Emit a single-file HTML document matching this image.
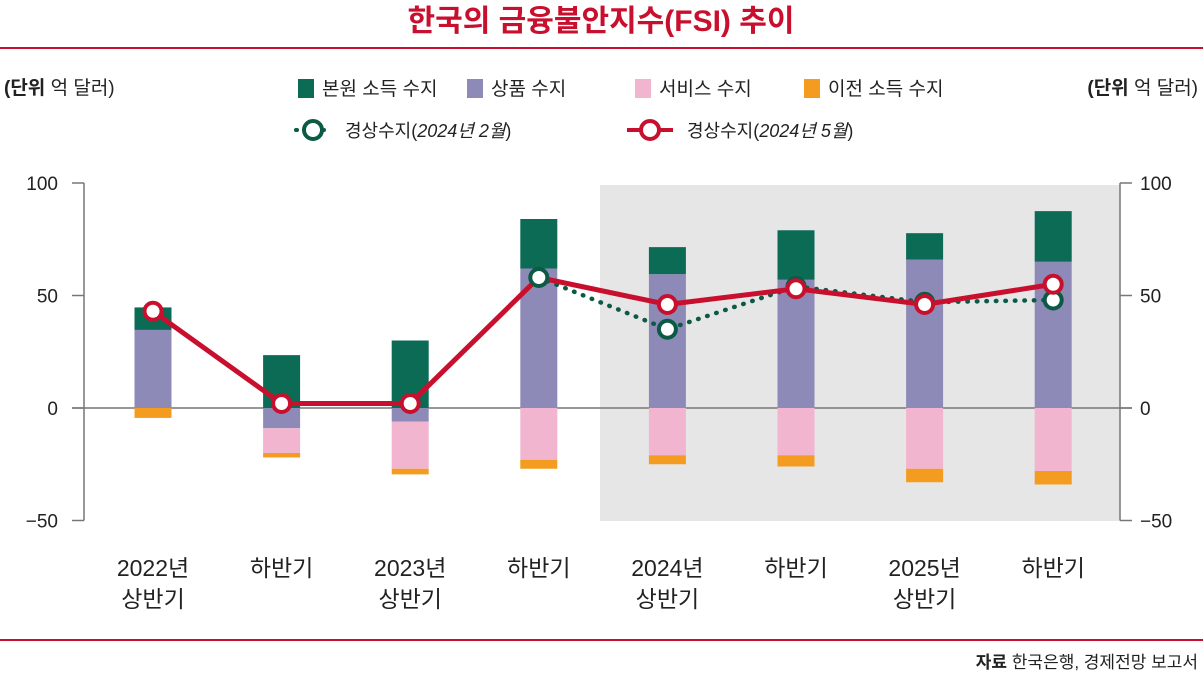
<!DOCTYPE html>
<html><head><meta charset="utf-8">
<style>
body{margin:0;background:#fff;width:1203px;height:677px;overflow:hidden;font-family:"Liberation Sans","Noto Sans CJK KR",sans-serif;}
svg text{font-family:"Liberation Sans","Noto Sans CJK KR",sans-serif;}
</style></head>
<body>
<svg id="c" width="1203" height="677">
<text x="601" y="31" text-anchor="middle" font-size="30" font-weight="bold" fill="#c8102e">한국의 금융불안지수(FSI) 추이</text>
<line x1="0" y1="48" x2="1203" y2="48" stroke="#c8102e" stroke-width="2"/>
<rect x="600" y="185" width="520" height="336" fill="#e6e6e6"/>
<text x="4" y="94" font-size="19" fill="#222"><tspan font-weight="bold">(단위</tspan> 억 달러)</text>
<text x="1198" y="94" text-anchor="end" font-size="19" fill="#222"><tspan font-weight="bold">(단위</tspan> 억 달러)</text>
<g>
<rect x="298" y="79" width="16" height="19" fill="#0b6b55"/>
<text x="322" y="95" font-size="19" fill="#222">본원 소득 수지</text>
<rect x="467" y="79" width="16" height="19" fill="#8e8ab8"/>
<text x="491" y="95" font-size="19" fill="#222">상품 수지</text>
<rect x="635" y="79" width="16" height="19" fill="#f1b5cf"/>
<text x="659" y="95" font-size="19" fill="#222">서비스 수지</text>
<rect x="804" y="79" width="16" height="19" fill="#f39c1f"/>
<text x="828" y="95" font-size="19" fill="#222">이전 소득 수지</text>
<line x1="296" y1="130" x2="330" y2="130" stroke="#0b5a45" stroke-width="4" stroke-dasharray="1 8" stroke-linecap="round"/>
<circle cx="313" cy="130" r="9" fill="#fff" stroke="#0b5a45" stroke-width="4"/>
<text x="345" y="137" font-size="18" fill="#222">경상수지(<tspan font-style="italic">2024년 2월</tspan>)</text>
<line x1="627" y1="130" x2="673" y2="130" stroke="#c8102e" stroke-width="4"/>
<circle cx="650" cy="130" r="9" fill="#fff" stroke="#c8102e" stroke-width="4"/>
<text x="687" y="137" font-size="18" fill="#222">경상수지(<tspan font-style="italic">2024년 5월</tspan>)</text>
</g>
<g id="axes"></g>
<g id="bars"></g>
<g id="lines"></g>
<line x1="0" y1="640" x2="1203" y2="640" stroke="#c8102e" stroke-width="2"/>
<text x="1198" y="668" text-anchor="end" font-size="17" fill="#222"><tspan font-weight="bold">자료</tspan> 한국은행, 경제전망 보고서</text>
</svg>
<script>
const categories=[["2022년","상반기"],["하반기"],["2023년","상반기"],["하반기"],["2024년","상반기"],["하반기"],["2025년","상반기"],["하반기"]];
const primaryIncome=[10,23.5,30,22,12,22,11.7,22.5];
const goods=[34.7,-9,-6,62,59.5,57,66,65];
const services=[0,-11,-21,-23,-21,-21,-27,-28];
const secondaryIncome=[-4.4,-2,-2.5,-4,-4,-5,-6,-6];
const currentMay=[43,2,2,58,46,53,46,55];
const currentFeb=[null,null,null,58,35,54,47,48];
const yTicks=[100,50,0,-50];
const NS="http://www.w3.org/2000/svg";
function y(v){return 408-v*2.25;}
function x(i){return 153+i*128.6;}
function mk(tag,attrs,parent){const e=document.createElementNS(NS,tag);for(const k in attrs)e.setAttribute(k,attrs[k]);parent.appendChild(e);return e;}
const ax=document.getElementById('axes'),bg=document.getElementById('bars'),lg=document.getElementById('lines');
let e;
e=mk('line',{x1:84,y1:y(100),x2:84,y2:y(-50),stroke:'#777','stroke-width':1.5},ax);


e=mk('line',{x1:1120,y1:y(100),x2:1120,y2:y(-50),stroke:'#777','stroke-width':1.5},ax);


e=mk('line',{x1:72,y1:y(0),x2:1132,y2:y(0),stroke:'#777','stroke-width':1.5},ax);


yTicks.forEach(t=>{
 e=mk('line',{x1:72,y1:y(t),x2:84,y2:y(t),stroke:'#777','stroke-width':1.5},ax);
 
 
 e=mk('line',{x1:1120,y1:y(t),x2:1132,y2:y(t),stroke:'#777','stroke-width':1.5},ax);
 
 
 e=mk('text',{x:58,y:y(t)+7,'text-anchor':'end','font-size':19,fill:'#222'},ax);
 e.textContent=t<0?'−'+(-t):t;
 
 
 e=mk('text',{x:1140,y:y(t)+7,'font-size':19,fill:'#222'},ax);
 e.textContent=t<0?'−'+(-t):t;
 
 
});
categories.forEach((c,i)=>{
 e=mk('text',{x:x(i),y:576,'text-anchor':'middle','font-size':23,fill:'#222'},ax);
 
 
 c.forEach((s,j)=>{const t=mk('tspan',{x:x(i),dy:j?31:0},e);t.textContent=s;});
});
const W=37;
categories.forEach((c,i)=>{
 const g=goods[i],p=primaryIncome[i],s=services[i],o=secondaryIncome[i];
 let posBase=Math.max(g,0),negBase=Math.min(g,0);
 function rect(a,b,col,name){const r=mk('rect',{x:x(i)-W/2,y:y(Math.max(a,b)),width:W,height:Math.abs(y(a)-y(b)),fill:col},bg);
  
  }
 rect(0,g,'#8e8ab8','bar-goods');
 if(p>=0){rect(posBase,posBase+p,'#0b6b55','bar-primary-income');}else{rect(negBase,negBase+p,'#0b6b55','bar-primary-income');negBase+=p;}
 rect(negBase,negBase+s,'#f1b5cf','bar-services');negBase+=s;
 rect(negBase,negBase+o,'#f39c1f','bar-secondary-income');
});
function path(arr){let d='',first=true;arr.forEach((v,i)=>{if(v==null)return;d+=(first?'M':'L')+x(i)+' '+y(v)+' ';first=false;});return d;}
e=mk('path',{d:path(currentFeb),fill:'none',stroke:'#0b5a45','stroke-width':4.5,'stroke-dasharray':'0.5 9','stroke-linecap':'round'},lg);


e=mk('path',{d:path(currentMay),fill:'none',stroke:'#c8102e','stroke-width':5},lg);


currentFeb.forEach((v,i)=>{if(v==null)return;
 e=mk('circle',{cx:x(i),cy:y(v),r:8.5,fill:'#fff',stroke:'#0b5a45','stroke-width':4},lg);
 
 });
currentMay.forEach((v,i)=>{if(i==3)return;
 e=mk('circle',{cx:x(i),cy:y(v),r:8.5,fill:'#fff',stroke:'#c8102e','stroke-width':4},lg);
 
 });
</script>
</body></html>
